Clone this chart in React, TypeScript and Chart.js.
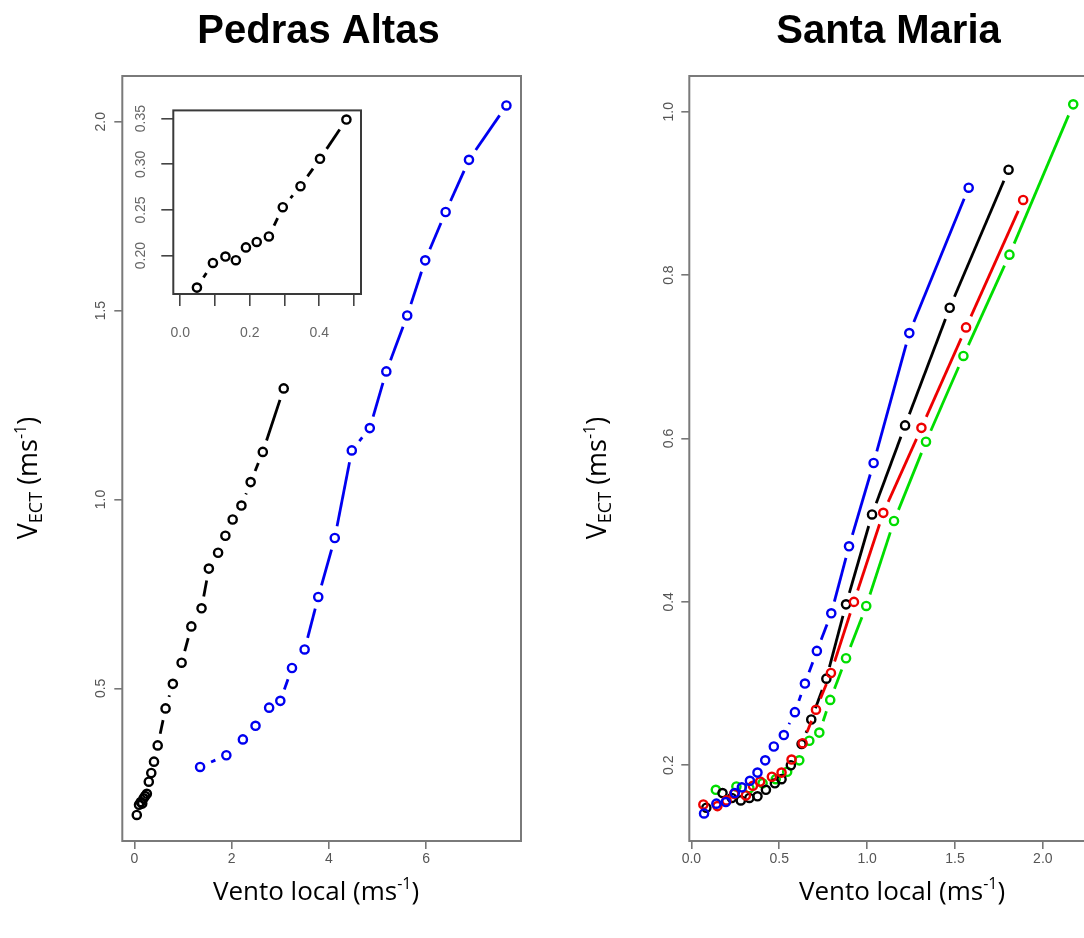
import React, { useEffect, useRef } from 'react';
import { Chart, registerables } from 'chart.js';

Chart.register(...registerables);

// ---------------- Data ----------------
// Pedras Altas (main panel + inset share the black series)
const paBlackX = [0.048, 0.094, 0.130, 0.160, 0.189, 0.220, 0.255, 0.295, 0.346, 0.402, 0.478, 0.64, 0.79, 0.97, 1.17, 1.38, 1.53, 1.72, 1.87, 2.02, 2.20, 2.39, 2.64, 3.07];
const paBlackY = [0.165, 0.192, 0.199, 0.195, 0.209, 0.215, 0.221, 0.253, 0.276, 0.306, 0.349, 0.447, 0.512, 0.568, 0.664, 0.712, 0.817, 0.859, 0.904, 0.947, 0.984, 1.046, 1.126, 1.294];
const paBlueX = [1.35, 1.89, 2.23, 2.49, 2.77, 3.00, 3.24, 3.50, 3.78, 4.12, 4.47, 4.84, 5.18, 5.61, 5.98, 6.40, 6.88, 7.65];
const paBlueY = [0.292, 0.323, 0.365, 0.401, 0.449, 0.467, 0.554, 0.603, 0.742, 0.898, 1.130, 1.189, 1.339, 1.487, 1.633, 1.761, 1.899, 2.043];
const insetCount = 11; // first points of the black series shown in the inset

// Santa Maria
const smBlueX = [0.072, 0.142, 0.196, 0.247, 0.287, 0.333, 0.376, 0.420, 0.469, 0.526, 0.589, 0.646, 0.714, 0.796, 0.897, 1.037, 1.240, 1.578];
const smBlueY = [0.141, 0.153, 0.155, 0.166, 0.173, 0.181, 0.191, 0.206, 0.223, 0.237, 0.265, 0.300, 0.340, 0.386, 0.468, 0.570, 0.729, 0.907];
const smBlackX = [0.085, 0.177, 0.230, 0.281, 0.330, 0.376, 0.424, 0.475, 0.513, 0.566, 0.627, 0.682, 0.768, 0.880, 1.028, 1.216, 1.470, 1.805];
const smBlackY = [0.148, 0.166, 0.160, 0.157, 0.160, 0.162, 0.170, 0.178, 0.183, 0.200, 0.226, 0.256, 0.306, 0.397, 0.507, 0.616, 0.760, 0.929];
const smRedX = [0.068, 0.148, 0.200, 0.243, 0.310, 0.350, 0.391, 0.458, 0.513, 0.570, 0.633, 0.709, 0.794, 0.925, 1.092, 1.309, 1.563, 1.888];
const smRedY = [0.152, 0.150, 0.157, 0.165, 0.163, 0.175, 0.180, 0.186, 0.191, 0.207, 0.227, 0.268, 0.313, 0.400, 0.509, 0.613, 0.736, 0.892];
const smGreenX = [0.139, 0.256, 0.330, 0.405, 0.480, 0.545, 0.614, 0.671, 0.728, 0.790, 0.880, 0.995, 1.153, 1.335, 1.548, 1.810, 2.173];
const smGreenY = [0.170, 0.174, 0.172, 0.178, 0.183, 0.192, 0.206, 0.230, 0.240, 0.280, 0.331, 0.395, 0.499, 0.596, 0.701, 0.825, 1.009];

// Axis ranges / tick steps
const paXRange = [-0.25, 7.95];
const paYRange = [0.096, 2.121];
const paXStep = 2;
const paYStep = 0.5;
const smXRange = [-0.012, 2.257];
const smYRange = [0.1073, 1.0437];
const smXStep = 0.5;
const smYStep = 0.2;
const inXRange = [-0.02, 0.52];
const inYRange = [0.158, 0.359];
const inXStep = 0.1;
const inYStep = 0.05;

// Text
const titleLeft = 'Pedras Altas';
const titleRight = 'Santa Maria';

// ---------------- Helpers ----------------
const TICK_FONT = '"Liberation Sans", Arial, Helvetica, sans-serif';
const LABEL_FONT = '"Open Sans", "Noto Sans", sans-serif';
const GAP = 12;

// R type="b": each segment shortened at both ends
const typeB = (ctx: any) => {
  const p0 = ctx.p0, p1 = ctx.p1;
  const L = Math.hypot(p1.x - p0.x, p1.y - p0.y);
  if (L <= 2 * GAP) return [0, L + 5000];
  return [0, GAP, L - 2 * GAP, GAP];
};

const toPts = (xs: number[], ys: number[]) => xs.map((x, i) => ({ x, y: ys[i] }));

const series = (xs: number[], ys: number[], color: string) => ({
  data: toPts(xs, ys),
  showLine: true,
  borderColor: color,
  backgroundColor: 'rgba(0,0,0,0)',
  borderWidth: 2.8,
  tension: 0,
  fill: false,
  pointRadius: 4.1,
  pointBorderWidth: 2.4,
  pointBorderColor: color,
  pointBackgroundColor: 'rgba(0,0,0,0)',
  pointStyle: 'circle',
  segment: { borderDash: typeB },
});

type AxisOpt = {
  range: number[]; step: number; fmt: (v: number) => string; fit: number;
  tickLen: number; pad: number; size: number; color: string; tickColor: string; rot?: boolean;
};
const axis = (o: AxisOpt) => ({
  type: 'linear',
  min: o.range[0],
  max: o.range[1],
  afterFit: (s: any) => { if (s.isHorizontal()) s.height = o.fit; else s.width = o.fit; },
  ticks: {
    stepSize: o.step,
    includeBounds: false,
    autoSkip: false,
    callback: (v: number) => o.fmt(v),
    color: o.color,
    font: { family: TICK_FONT, size: o.size },
    padding: o.pad,
    ...(o.rot ? { minRotation: 90, maxRotation: 90, crossAlign: 'center' } : { minRotation: 0, maxRotation: 0 }),
  },
  grid: { display: true, drawOnChartArea: false, drawTicks: true, tickLength: o.tickLen, color: o.tickColor, tickColor: o.tickColor, lineWidth: 1.6 },
  border: { display: false },
});

type Part = { t: string; s: number; dy: number };
const drawRich = (ctx: CanvasRenderingContext2D, parts: Part[], x: number, y: number, rot: number) => {
  ctx.save();
  ctx.translate(x, y);
  ctx.rotate(rot);
  ctx.textBaseline = 'alphabetic';
  ctx.textAlign = 'left';
  let total = 0;
  const widths = parts.map((p) => { ctx.font = `${p.s}px ${LABEL_FONT}`; const w = ctx.measureText(p.t).width; total += w; return w; });
  let cx = -total / 2;
  parts.forEach((p, i) => {
    ctx.font = `${p.s}px ${LABEL_FONT}`;
    ctx.fillStyle = '#000';
    ctx.fillText(p.t, cx, p.dy);
    cx += widths[i];
  });
  ctx.restore();
};

const xlabelParts: Part[] = [
  { t: 'Vento local (ms', s: 26, dy: 0 },
  { t: '-1', s: 16, dy: -11 },
  { t: ')', s: 26, dy: 0 },
];
const ylabelParts: Part[] = [
  { t: 'V', s: 27, dy: 0 },
  { t: 'ECT', s: 18, dy: 5 },
  { t: ' (ms', s: 27, dy: 0 },
  { t: '-1', s: 16, dy: -11 },
  { t: ')', s: 27, dy: 0 },
];

type Decor = {
  boxColor: string; fillArea?: boolean;
  title?: string; titleX?: number; titleY?: number;
  xlab?: { x: number; y: number }; ylab?: { x: number; y: number };
};
const makeDecor = (d: Decor) => ({
  id: 'decor',
  beforeDraw(chart: any) {
    if (!d.fillArea) return;
    const { left, top, right, bottom } = chart.chartArea;
    const ctx = chart.ctx;
    ctx.save();
    ctx.fillStyle = '#fff';
    ctx.fillRect(left, top, right - left, bottom - top);
    ctx.restore();
  },
  afterDraw(chart: any) {
    const ctx: CanvasRenderingContext2D = chart.ctx;
    const { left, top, right, bottom } = chart.chartArea;
    ctx.save();
    ctx.strokeStyle = d.boxColor;
    ctx.lineWidth = 2;
    ctx.strokeRect(left, top, right - left, bottom - top);
    if (d.title) {
      ctx.font = `bold 40px ${TICK_FONT}`;
      ctx.fillStyle = '#000';
      ctx.textAlign = 'center';
      ctx.textBaseline = 'alphabetic';
      ctx.fillText(d.title, d.titleX!, d.titleY!);
    }
    ctx.restore();
    if (d.xlab) drawRich(ctx, xlabelParts, d.xlab.x, d.xlab.y, 0);
    if (d.ylab) drawRich(ctx, ylabelParts, d.ylab.x, d.ylab.y, -Math.PI / 2);
  },
});

const baseOptions = (padding: any, scales: any) => ({
  responsive: false,
  animation: false,
  devicePixelRatio: 1,
  events: [],
  layout: { padding },
  plugins: { legend: { display: false }, tooltip: { enabled: false }, title: { display: false } },
  scales,
});

const fmt1 = (v: number) => v.toFixed(1);
const fmt0 = (v: number) => v.toFixed(0);
const fmt2 = (v: number) => v.toFixed(2);
const fmtInsetX = (v: number) => (Math.abs(v * 5 - Math.round(v * 5)) < 1e-6 ? v.toFixed(1) : '');

const mainTick = { tickLen: 8, size: 14, color: '#555', tickColor: '#777' };

const leftConfig = (): any => ({
  type: 'scatter',
  data: {
    datasets: [
      series(paBlackX, paBlackY, '#000000'),
      series(paBlueX, paBlueY, '#0000f0'),
    ],
  },
  options: baseOptions({ left: 72.3, right: 19, top: 76, bottom: 57 }, {
    x: axis({ range: paXRange, step: paXStep, fmt: fmt0, fit: 40, pad: 1.5, ...mainTick }),
    y: axis({ range: paYRange, step: paYStep, fmt: fmt1, fit: 50, pad: 3, rot: true, ...mainTick }),
  }),
  plugins: [makeDecor({ boxColor: '#7a7a7a', title: titleLeft, titleX: 318.5, titleY: 43, xlab: { x: 316, y: 900 }, ylab: { x: 37, y: 478 } })],
});

const rightConfig = (): any => ({
  type: 'scatter',
  data: {
    datasets: [
      series(smBlueX, smBlueY, '#0000f0'),
      series(smRedX, smRedY, '#ee0000'),
      series(smBlackX, smBlackY, '#000000'),
      series(smGreenX, smGreenY, '#00dd00'),
    ],
  },
  options: baseOptions({ left: 99.3, right: 12, top: 76, bottom: 57 }, {
    x: axis({ range: smXRange, step: smXStep, fmt: fmt1, fit: 40, pad: 1.5, ...mainTick }),
    y: axis({ range: smYRange, step: smYStep, fmt: fmt1, fit: 50, pad: 2, rot: true, ...mainTick }),
  }),
  plugins: [makeDecor({ boxColor: '#7a7a7a', title: titleRight, titleX: 888.5 - 540, titleY: 43, xlab: { x: 902 - 540, y: 900 }, ylab: { x: 606 - 540, y: 478 } })],
});

const insetConfig = (): any => ({
  type: 'scatter',
  data: {
    datasets: [series(paBlackX.slice(0, insetCount), paBlackY.slice(0, insetCount), '#000000')],
  },
  options: baseOptions({ left: 13.3, right: 19, top: 11.7, bottom: 4 }, {
    x: axis({ range: inXRange, step: inXStep, fmt: fmtInsetX, fit: 52, pad: 19, tickLen: 12, size: 14, color: '#666', tickColor: '#444' }),
    y: axis({ range: inYRange, step: inYStep, fmt: fmt2, fit: 50, pad: 7, rot: true, tickLen: 12, size: 14, color: '#666', tickColor: '#444' }),
  }),
  plugins: [makeDecor({ boxColor: '#3a3a3a', fillArea: true })],
});

export default function App() {
  const leftRef = useRef<HTMLCanvasElement | null>(null);
  const rightRef = useRef<HTMLCanvasElement | null>(null);
  const insetRef = useRef<HTMLCanvasElement | null>(null);

  useEffect(() => {
    Chart.defaults.font.family = TICK_FONT;
    const charts = [
      new Chart(leftRef.current as HTMLCanvasElement, leftConfig()),
      new Chart(rightRef.current as HTMLCanvasElement, rightConfig()),
      new Chart(insetRef.current as HTMLCanvasElement, insetConfig()),
    ];
    return () => charts.forEach((c) => c.destroy());
  }, []);

  return (
    <div style={{ position: 'absolute', left: 0, top: 0, width: 1084, height: 938, overflow: 'hidden', background: '#fff' }}>
      <canvas ref={leftRef} width={540} height={938} style={{ position: 'absolute', left: 0, top: 0, width: 540, height: 938 }} />
      <canvas ref={rightRef} width={560} height={938} style={{ position: 'absolute', left: 540, top: 0, width: 560, height: 938 }} />
      <canvas ref={insetRef} width={270} height={255} style={{ position: 'absolute', left: 110, top: 95, width: 270, height: 255 }} />
    </div>
  );
}
